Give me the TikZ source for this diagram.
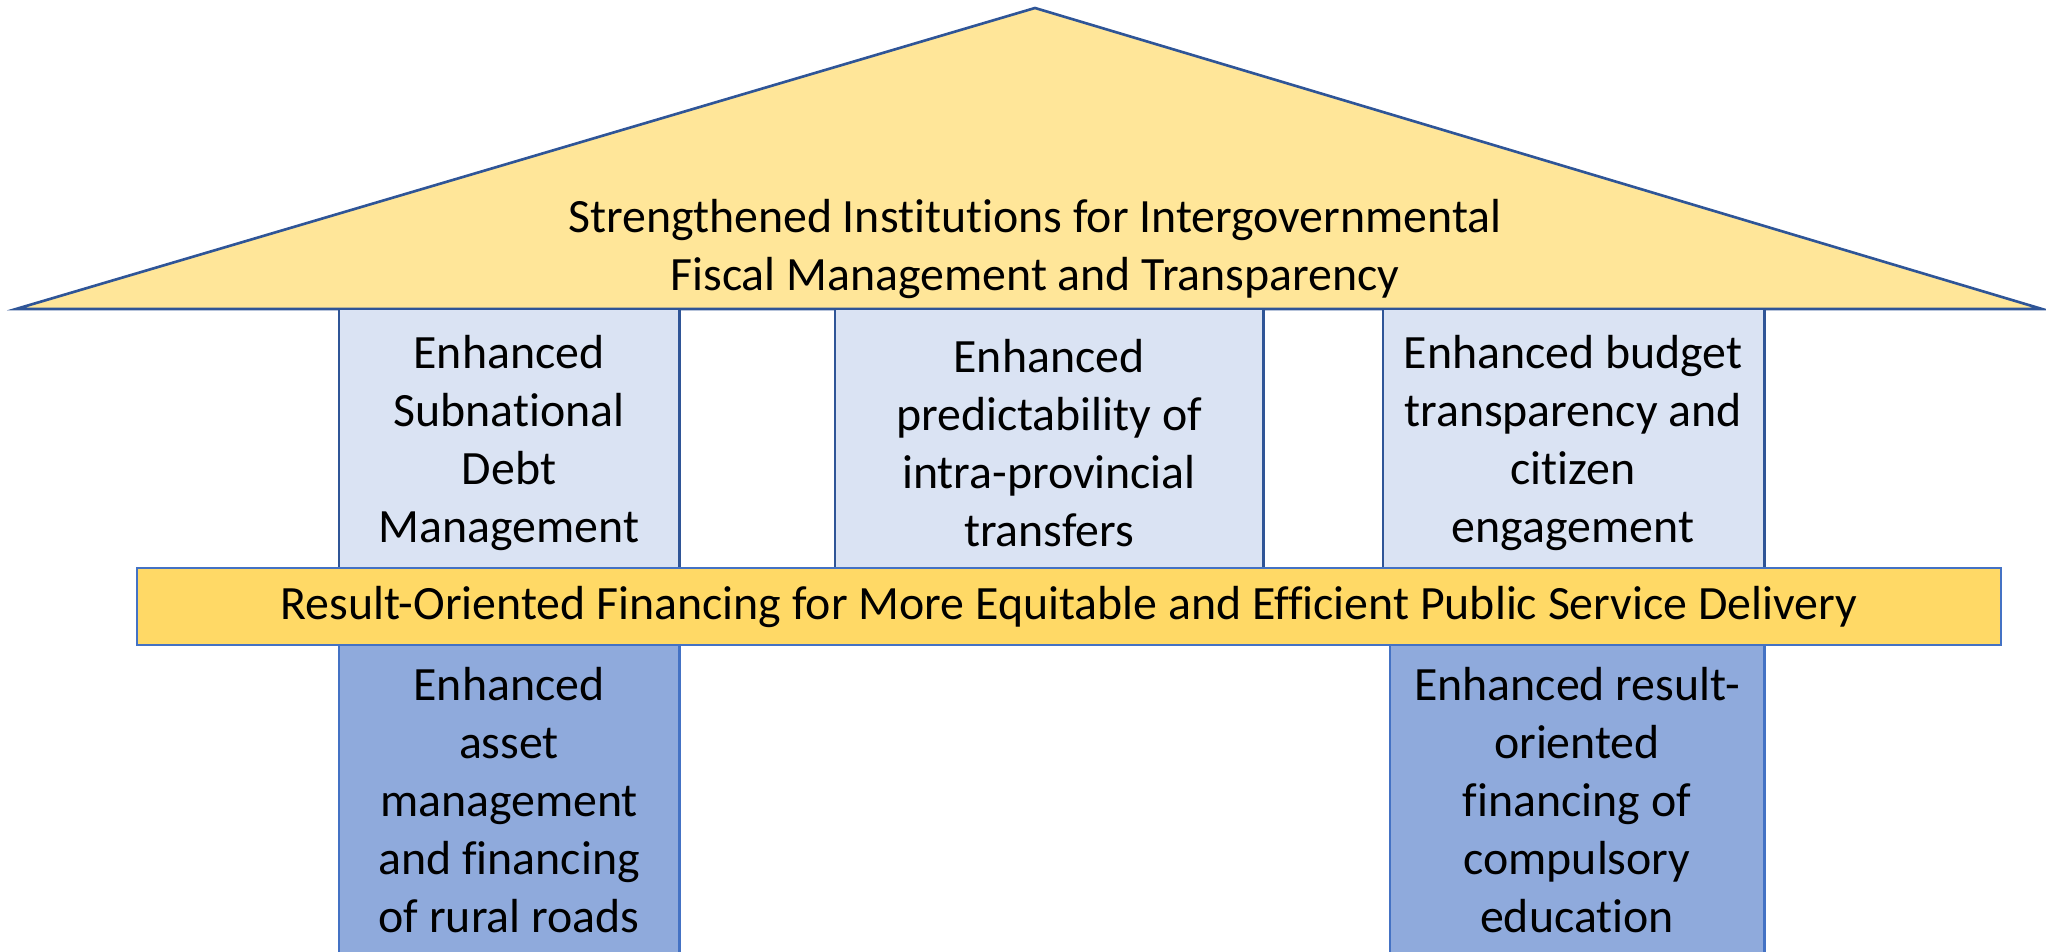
\documentclass[tikz,border=0pt]{standalone}
\usepackage{fontspec}
\setmainfont{Carlito}[Ligatures=NoCommon]
\usetikzlibrary{positioning}
\definecolor{roofyellow}{HTML}{FFE699}
\definecolor{bandgold}{HTML}{FFD966}
\definecolor{pillarlight}{HTML}{DAE3F3}
\definecolor{pillardark}{HTML}{8FAADC}
\definecolor{edgedark}{HTML}{2F5597}
\definecolor{edgeblue}{HTML}{4472C4}
\tikzstyle{roof} = [draw=edgedark, fill=roofyellow, line width=0.75pt, line join=miter]
\tikzstyle{upper} = [draw=edgedark, fill=pillarlight, rectangle, line width=0.75pt,
    inner sep=0pt, outer sep=0pt, anchor=north west, minimum height=2.59cm]
\tikzstyle{lower} = [draw=edgeblue, fill=pillardark, rectangle, line width=0.75pt,
    inner sep=0pt, outer sep=0pt, anchor=north west, minimum height=3.2cm]
\tikzstyle{band} = [draw=edgeblue, fill=bandgold, rectangle, line width=0.75pt,
    inner sep=0pt, outer sep=0pt, anchor=north west, minimum width=18.63cm, minimum height=0.77cm]
\tikzstyle{label} = [align=center, inner sep=0pt, font=\fontsize{13.6}{16.5}\selectfont]

\begin{document}
\begin{tikzpicture}[x=0.01cm, y=-0.01cm]
    \useasboundingbox (0,0) rectangle (2046,952);

    % The roof
    \coordinate (roofL) at (16,309);
    \coordinate (apex) at (1035,8);
    \coordinate (roofR) at (2042,309);
    \draw [roof] (roofL) -- (apex) -- (roofR) -- cycle;
    \node [label] (rooftext) at (1035,249) {Strengthened Institutions for Intergovernmental\\Fiscal Management and Transparency};

    % Upper pillars
    \node [upper, minimum width=3.4cm] (debt) at (339,309) {};
    \node [upper, minimum width=4.28cm] (transfers) at (835,309) {};
    \node [upper, minimum width=3.81cm] (budget) at (1383,309) {};

    % Lower pillars
    \node [lower, minimum width=3.4cm] (roads) at (339,645) {};
    \node [lower, minimum width=3.74cm] (education) at (1390,645) {};

    % The band across the middle
    \node [band, label] (delivery) at (137,568) {Result-Oriented Financing for More Equitable and Efficient Public Service Delivery};

    % Pillar texts
    \node [label] (debttext) at (509,443) {Enhanced\\Subnational\\Debt\\Management};
    \node [label] (transferstext) at (1049,443) {Enhanced\\predictability of\\intra-provincial\\transfers};
    \node [label] (budgettext) at (1573,443) {Enhanced budget\\transparency and\\citizen\\engagement};
    \node [label] (roadstext) at (509,800) {Enhanced\\asset\\management\\and financing\\of rural roads};
    \node [label] (educationtext) at (1577,800) {Enhanced result-\\oriented\\financing of\\compulsory\\education};
\end{tikzpicture}
\end{document}
